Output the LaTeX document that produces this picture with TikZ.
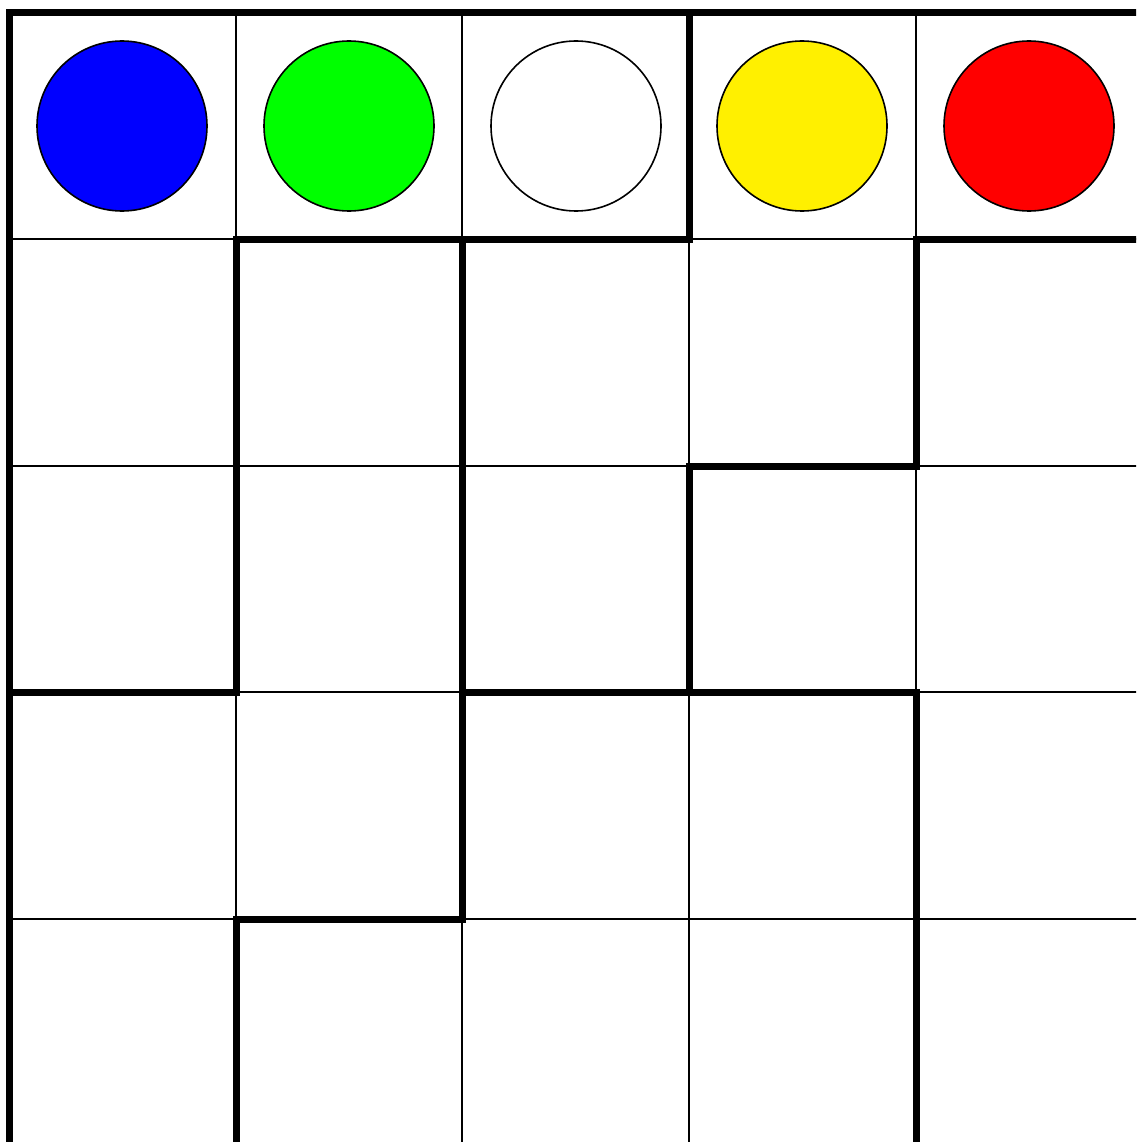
\documentclass[tikz,border=0pt]{standalone}
\definecolor{pyellow}{RGB}{255,240,0}
\begin{document}
\begin{tikzpicture}[x=1pt,y=-1pt,
  thin grid/.style={line width=1.6pt,black},
  wall/.style={line width=7pt,black,line cap=rect},
  disc/.style={circle,draw=black,line width=1.6pt,minimum size=170pt,inner sep=0pt}]
\useasboundingbox (0,0) rectangle (1136,1142);
\fill[white] (0,0) rectangle (1136,1142);
\clip (0,0) rectangle (1136,1142);
% thin grid
\foreach \x in {236,462,689,916} \draw[thin grid] (\x,13) -- (\x,1150);
\foreach \y in {239,466,692,919} \draw[thin grid] (9,\y) -- (1150,\y);
% walls
\draw[wall] (1150,13) -- (9,13) -- (9,1150);
\draw[wall] (689,13) -- (689,239);
\draw[wall] (236,239) -- (689,239);
\draw[wall] (916,239) -- (1150,239);
\draw[wall] (236,239) -- (236,692);
\draw[wall] (462,239) -- (462,919);
\draw[wall] (916,239) -- (916,466) -- (689,466) -- (689,692);
\draw[wall] (9,692) -- (236,692);
\draw[wall] (462,692) -- (916,692) -- (916,1150);
\draw[wall] (462,919) -- (236,919) -- (236,1150);
% discs
\node[disc,fill={rgb,255:red,0;green,0;blue,255}] (blue) at (122,126) {};
\node[disc,fill={rgb,255:red,0;green,255;blue,0}] (green) at (349,126) {};
\node[disc,fill=white] (white) at (576,126) {};
\node[disc,fill=pyellow] (yellow) at (802,126) {};
\node[disc,fill={rgb,255:red,255;green,0;blue,0}] (red) at (1029,126) {};
\end{tikzpicture}
\end{document}
